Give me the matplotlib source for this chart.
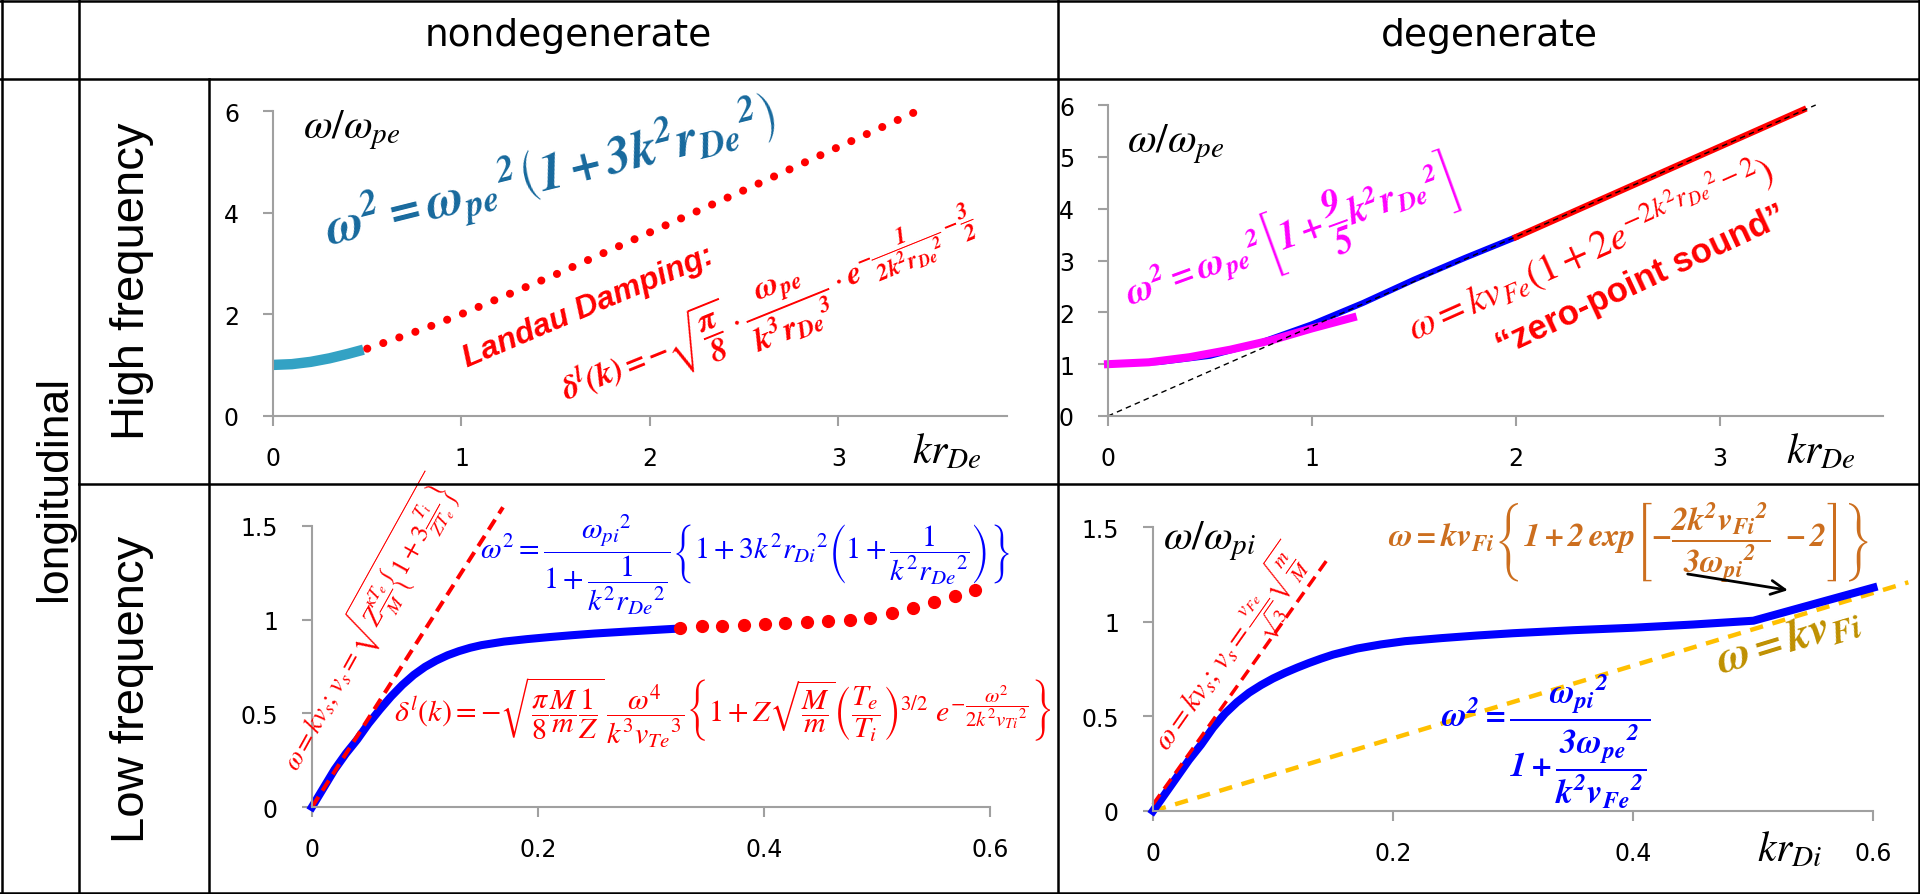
import matplotlib.pyplot as plt
from matplotlib.lines import Line2D

plt.rcParams['mathtext.fontset'] = 'stix'
plt.rcParams['font.family'] = ['DejaVu Sans']

W, H = 1920, 895

# ---- data ----
# high frequency, nondegenerate (k r_De, w/w_pe)
hf_nd_k = [0.0, 0.1, 0.2, 0.3, 0.4, 0.48]
hf_nd_w = [1.0, 1.015, 1.06, 1.13, 1.22, 1.30]
hf_nd_damp_k = [0.5, 0.8, 1.0, 1.5, 2.0, 2.5, 3.0, 3.42]
hf_nd_damp_w = [1.32, 1.71, 2.0, 2.78, 3.61, 4.44, 5.29, 6.0]

# high frequency, degenerate
hf_d_k = [0.0, 0.25, 0.5, 0.75, 1.0, 1.25, 1.5, 1.75, 2.0]
hf_d_w = [1.0, 1.04, 1.16, 1.42, 1.77, 2.18, 2.63, 3.05, 3.45]
hf_d_approx_k = [0.0, 0.2, 0.4, 0.6, 0.8, 1.0, 1.2]
hf_d_approx_w = [1.0, 1.036, 1.135, 1.28, 1.46, 1.69, 1.90]
hf_d_zs_k = [2.0, 3.41]
hf_d_zs_w = [3.45, 5.91]
hf_d_asym_k = [0.0, 3.47]
hf_d_asym_w = [0.0, 6.0]

# low frequency, nondegenerate (k r_Di, w/w_pi)
lf_nd_k = [0.0, 0.01, 0.02, 0.03, 0.04, 0.05, 0.06, 0.07, 0.08, 0.09, 0.10, 0.11,
           0.12, 0.13, 0.14, 0.15, 0.17, 0.19, 0.21, 0.23, 0.25, 0.28, 0.30, 0.326]
lf_nd_w = [0.0, 0.10, 0.20, 0.285, 0.36, 0.445, 0.52, 0.59, 0.652, 0.705, 0.748, 0.782,
           0.81, 0.832, 0.85, 0.864, 0.883, 0.896, 0.907, 0.917, 0.926, 0.937, 0.944, 0.953]
lf_nd_damp_k = [0.326, 0.345, 0.363, 0.382, 0.401, 0.419, 0.438, 0.457,
                0.476, 0.494, 0.513, 0.532, 0.550, 0.569, 0.587]
lf_nd_damp_w = [0.956, 0.968, 0.968, 0.972, 0.975, 0.982, 0.986, 0.991,
                0.998, 1.007, 1.034, 1.064, 1.093, 1.127, 1.159]
lf_nd_sound_k = [0.0, 0.169]
lf_nd_sound_w = [0.0, 1.60]

# low frequency, degenerate
lf_d_k = [0.0, 0.01, 0.02, 0.03, 0.04, 0.05, 0.06, 0.07, 0.08, 0.09, 0.10, 0.11, 0.12,
          0.13, 0.14, 0.15, 0.17, 0.19, 0.21, 0.24, 0.27, 0.30, 0.35, 0.40, 0.45, 0.50, 0.60]
lf_d_w = [0.0, 0.09, 0.18, 0.27, 0.35, 0.44, 0.515, 0.575, 0.625, 0.665, 0.70, 0.73, 0.757,
          0.782, 0.805, 0.826, 0.858, 0.88, 0.897, 0.913, 0.927, 0.939, 0.955, 0.968, 0.985, 1.005, 1.18]
lf_d_sound_k = [0.0, 0.1465]
lf_d_sound_w = [0.035, 1.34]
lf_d_fermi_k = [0.0, 0.629]
lf_d_fermi_w = [0.0, 1.208]

GRAY = '#A0A0A0'
RED = '#FF0000'


def rect(x0, x1, ytop, ybot):
    return [x0 / W, 1 - ybot / H, (x1 - x0) / W, (ybot - ytop) / H]


def style(ax, xt, xl, yt, yl, xmax, ymax):
    for s in ['top', 'right']:
        ax.spines[s].set_visible(False)
    for s in ['left', 'bottom']:
        ax.spines[s].set_color(GRAY)
        ax.spines[s].set_linewidth(1.5)
    ax.set_xlim(0, xmax)
    ax.set_ylim(0, ymax)
    ax.set_xticks(xt)
    ax.set_xticklabels(xl)
    ax.set_yticks(yt)
    ax.set_yticklabels(yl)
    ax.tick_params(direction='out', length=7.5, width=1.5, color=GRAY, labelsize=17)
    ax.tick_params(axis='x', pad=14)
    ax.tick_params(axis='y', pad=17)
    ax.patch.set_visible(False)


fig = plt.figure(figsize=(19.2, 8.95), dpi=100)

# ---------------- top-left: high frequency, nondegenerate ----------------
ax1 = fig.add_axes(rect(273, 1006.7, 112, 416.7))
style(ax1, [0, 1, 2, 3], ['0', '1', '2', '3'], [0, 2, 4, 6], ['0', '2', '4', '6'], 3.894, 6)
ax1.plot(hf_nd_k, hf_nd_w, color='#33A2C4', lw=7.5, solid_capstyle='butt', clip_on=False)
ax1.plot(hf_nd_damp_k, hf_nd_damp_w, color=RED, lw=5.8, linestyle=(0, (0.01, 2.1)),
         dash_capstyle='round', clip_on=False)
ax1.text(0.42, 5.64, r'$\omega/\omega_{pe}$', fontsize=30, ha='center', va='center')
ax1.text(3.576, -0.68, r'$kr_{De}$', fontsize=30, ha='center', va='center')
ax1.text(0.30, 3.36, r'$\mathbfit{\omega^2 = {\omega_{pe}}^2\left(1+3k^2{r_{De}}^2\right)}$',
         color='#17699D', fontsize=37, rotation=14, rotation_mode='anchor', ha='left', va='baseline')
ax1.text(1.03, 0.96, 'Landau Damping:', color=RED, fontsize=23, fontweight='bold', style='italic',
         family='Liberation Sans', rotation=23, rotation_mode='anchor', ha='left', va='baseline')
ax1.text(1.56, 0.30,
         r'$\mathbfit{\delta^l(k) = -\sqrt{\dfrac{\pi}{8}}}\cdot\mathbfit{\dfrac{\omega_{pe}}{k^3{r_{De}}^3}}'
         r'\cdot\mathbfit{e^{-\dfrac{1}{2k^2{r_{De}}^2}-\dfrac{3}{2}}}$',
         color=RED, fontsize=24, rotation=22, rotation_mode='anchor', ha='left', va='baseline')

# ---------------- top-right: high frequency, degenerate ----------------
ax2 = fig.add_axes(rect(1108, 1883, 106, 417))
style(ax2, [0, 1, 2, 3], ['0', '1', '2', '3'], list(range(7)), [str(v) for v in range(7)], 3.8, 6)
ax2.plot(hf_d_k, hf_d_w, color='#0000FF', lw=4.3, clip_on=False)
ax2.plot(hf_d_approx_k, hf_d_approx_w, color='#FF00FF', lw=5.8, clip_on=False)
ax2.plot(hf_d_zs_k, hf_d_zs_w, color=RED, lw=4.5, clip_on=False)
ax2.plot(hf_d_asym_k, hf_d_asym_w, color='black', lw=1.0, linestyle=(0, (4, 3)), clip_on=False)
ax2.text(0.33, 5.27, r'$\omega/\omega_{pe}$', fontsize=30, ha='center', va='center')
ax2.text(3.495, -0.66, r'$kr_{De}$', fontsize=30, ha='center', va='center')
ax2.text(0.11, 2.16, r'$\mathbfit{\omega^2 = {\omega_{pe}}^2\left[1+\dfrac{9}{5}k^2{r_{De}}^2\right]}$',
         color='#FF00FF', fontsize=27, rotation=20, rotation_mode='anchor', ha='left', va='baseline')
ax2.text(1.50, 1.45, r'$\omega = kv_{Fe}\left(1+2e^{-2k^2{r_{De}}^2-2}\right)$',
         color=RED, fontsize=28, rotation=24, rotation_mode='anchor', ha='left', va='baseline')
ax2.text(1.93, 1.17, '\u201czero-point sound\u201d', color=RED, fontsize=25, fontweight='bold',
         family='Liberation Sans', rotation=25, rotation_mode='anchor', ha='left', va='baseline')

# ---------------- bottom-left: low frequency, nondegenerate ----------------
ax3 = fig.add_axes(rect(312, 990, 527, 808))
style(ax3, [0, 0.2, 0.4, 0.6], ['0', '0.2', '0.4', '0.6'], [0, 0.5, 1, 1.5],
      ['0', '0.5', '1', '1.5'], 0.6, 1.5)
ax3.plot(lf_nd_k, lf_nd_w, color='#0000FF', lw=5.8, clip_on=False)
ax3.plot(lf_nd_sound_k, lf_nd_sound_w, color=RED, lw=2.9, linestyle=(0, (3, 1.8)), clip_on=False)
ax3.plot(lf_nd_damp_k, lf_nd_damp_w, 'o', color=RED, markersize=8.5, clip_on=False)
ax3.text(-0.013, 0.19, r'$\omega = kv_s;\, v_s = \sqrt{Z\frac{\kappa T_e}{M}\left\{1+3\frac{T_i}{ZT_e}\right\}}$',
         color=RED, fontsize=19, rotation=61, rotation_mode='anchor', ha='left', va='baseline')
ax3.text(0.149, 1.30,
         r'$\omega^2 = \dfrac{{\omega_{pi}}^2}{1+\dfrac{1}{k^2{r_{De}}^2}}\left\{1+3k^2{r_{Di}}^2'
         r'\left(1+\dfrac{1}{k^2{r_{De}}^2}\right)\right\}$',
         color='#0000FF', fontsize=21.5, ha='left', va='center')
ax3.text(0.073, 0.51,
         r'$\delta^l(k) = -\sqrt{\dfrac{\pi}{8}\dfrac{M}{m}\dfrac{1}{Z}}\,\dfrac{\omega^4}{k^3{v_{Te}}^3}'
         r'\left\{1+Z\sqrt{\dfrac{M}{m}}\left(\dfrac{T_e}{T_i}\right)^{3/2}\ e^{-\dfrac{\omega^2}{2k^2{v_{Ti}}^2}}\right\}$',
         color=RED, fontsize=21.5, ha='left', va='center')

# ---------------- bottom-right: low frequency, degenerate ----------------
ax4 = fig.add_axes(rect(1153, 1873.5, 528, 812))
style(ax4, [0, 0.2, 0.4, 0.6], ['0', '0.2', '0.4', '0.6'], [0, 0.5, 1, 1.5],
      ['0', '0.5', '1', '1.5'], 0.6, 1.5)
ax4.plot(lf_d_fermi_k, lf_d_fermi_w, color='#FFC000', lw=3.2, linestyle=(0, (3, 2.2)), clip_on=False)
ax4.plot(lf_d_k, lf_d_w, color='#0000FF', lw=5.8, clip_on=False)
ax4.plot(lf_d_sound_k, lf_d_sound_w, color=RED, lw=2.5, linestyle=(0, (3.5, 2)), clip_on=False)
ax4.text(0.047, 1.43, r'$\omega/\omega_{pi}$', fontsize=30, ha='center', va='center')
ax4.text(0.530, -0.195, r'$kr_{Di}$', fontsize=30, ha='center', va='center')
ax4.text(0.0125, 0.317, r'$\omega = kv_s;\, v_s = \frac{v_{Fe}}{\sqrt{3}}\sqrt{\frac{m}{M}}$',
         color=RED, fontsize=21, rotation=55, rotation_mode='anchor', ha='left', va='baseline')
ax4.text(0.196, 1.42,
         r'$\mathbfit{\omega = kv_{Fi}\left\{1+2\,exp\left[-\dfrac{2k^2{v_{Fi}}^2}{3{\omega_{pi}}^2}\ -2\right]\right\}}$',
         color='#CC6E1E', fontsize=23.5, ha='left', va='center')
ax4.annotate('', xy=(0.531, 1.164), xytext=(0.443, 1.254),
             arrowprops=dict(arrowstyle='->', lw=2, color='black', mutation_scale=25))
ax4.text(0.473, 0.734, r'$\mathbfit{\omega = kv_{Fi}}$', color='#BF9000', fontsize=33,
         rotation=17, rotation_mode='anchor', ha='left', va='baseline')
ax4.text(0.24, 0.37, r'$\mathbfit{\omega^2 = \dfrac{{\omega_{pi}}^2}{1+\dfrac{3{\omega_{pe}}^2}{k^2{v_{Fe}}^2}}}$',
         color='#0000FF', fontsize=24.5, ha='left', va='center')

# ---------------- table frame and headers ----------------
def hline(y, x0, x1):
    fig.add_artist(Line2D([x0 / W, x1 / W], [1 - y / H, 1 - y / H], color='black', lw=1.8,
                          transform=fig.transFigure))


def vline(x, y0, y1):
    fig.add_artist(Line2D([x / W, x / W], [1 - y0 / H, 1 - y1 / H], color='black', lw=1.8,
                          transform=fig.transFigure))


hline(1.5, 0, W)
hline(893.5, 0, W)
hline(80, 0, W)
hline(485, 79, W)
vline(1.5, 0, H)
vline(1918.5, 0, H)
vline(79, 0, H)
vline(209, 80, H)
vline(1058, 0, H)

fig.text(568 / W, 1 - 46 / H, 'nondegenerate', fontsize=27, ha='center', va='baseline')
fig.text(1489 / W, 1 - 46 / H, 'degenerate', fontsize=27, ha='center', va='baseline')
fig.text(54 / W, 1 - 488 / H, 'longitudinal', fontsize=32, family='Liberation Sans',
         rotation=90, ha='center', va='center')
fig.text(132 / W, 1 - 281 / H, 'High frequency', fontsize=34, family='Liberation Sans',
         rotation=90, ha='center', va='center')
fig.text(132 / W, 1 - 689 / H, 'Low frequency', fontsize=34, family='Liberation Sans',
         rotation=90, ha='center', va='center')

fig.savefig('out.png', dpi=100, facecolor='white')
